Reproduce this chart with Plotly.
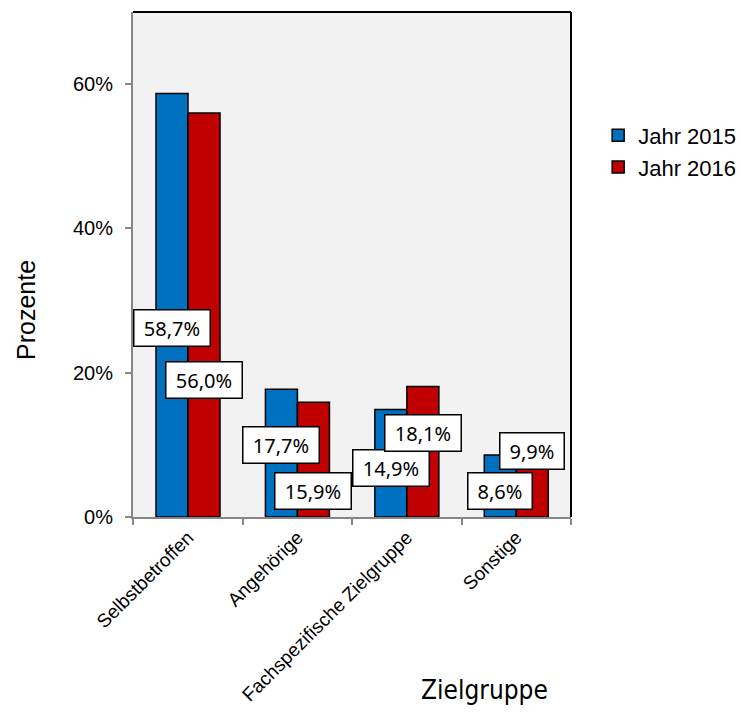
import plotly.graph_objects as go

# Zielgruppen und Anteile (in Prozent) je Jahr
categories = ["Selbstbetroffen", "Angehörige", "Fachspezifische Zielgruppe", "Sonstige"]
years = ["Jahr 2015", "Jahr 2016"]
values_2015 = [58.7, 17.7, 14.9, 8.6]
values_2016 = [56.0, 15.9, 18.1, 9.9]
y_ticks = [0, 20, 40, 60]
y_tick_labels = ["0%", "20%", "40%", "60%"]

# vertical placement of the value boxes (data units)
label_y_2015 = [26.2, 10.0, 6.8, 3.6]
label_y_2016 = [19.0, 3.6, 11.6, 9.1]

colors = ["#0070c0", "#c00000"]

fig = go.Figure()
for name, vals, col in zip(years, [values_2015, values_2016], colors):
    fig.add_trace(go.Bar(
        x=categories, y=vals, name=name,
        marker=dict(color=col, line=dict(color="black", width=1.5)),
    ))

def fmt(v):
    return f"{v:.1f}%".replace(".", ",")

annotations = []
for vals, ly, shift in [(values_2015, label_y_2015, -16), (values_2016, label_y_2016, 16)]:
    for cat, v, y in zip(categories, vals, ly):
        txt = fmt(v)
        annotations.append(dict(
            x=cat, y=y, xref="x", yref="y", text=txt, showarrow=False,
            xshift=shift, font=dict(family="Noto Sans", size=20, color="black"),
            bgcolor="white", bordercolor="black", borderwidth=1.5, borderpad=0,
            width=75 if len(txt) > 4 else 63, height=35,
        ))

# figure geometry (pixels)
L, R, T, B, W, H = 133, 170, 12, 196, 741, 713
pw, ph = W - L - R, H - T - B

def px_to_paper(x, y):
    return (x - L) / pw, 1 - (y - T) / ph

ax, ay = px_to_paper(26, 310)
annotations.append(dict(
    x=ax, y=ay, xref="paper", yref="paper", text="Prozente", showarrow=False,
    xanchor="center", yanchor="middle", textangle=-90,
    font=dict(family="Liberation Sans", size=25, color="black"),
))
ax, ay = px_to_paper(484, 690)
annotations.append(dict(
    x=ax, y=ay, xref="paper", yref="paper", text="Zielgruppe", showarrow=False,
    xanchor="center", yanchor="middle",
    font=dict(family="DejaVu Sans Condensed, Liberation Sans", size=26, color="black"),
))

fig.update_layout(
    width=W, height=H,
    margin=dict(l=L, r=R, t=T, b=B, autoexpand=False),
    paper_bgcolor="white", plot_bgcolor="#f2f2f2",
    barmode="group", bargap=0.415, bargroupgap=0,
    font=dict(family="Liberation Sans", color="black"),
    legend=dict(x=1.062, y=0.797, xanchor="left", yanchor="top",
                font=dict(family="Liberation Sans", size=22, color="black"),
                bgcolor="rgba(0,0,0,0)", tracegroupgap=0),
    annotations=annotations,
    shapes=[
        dict(type="line", xref="paper", yref="paper", x0=0, x1=1, y0=1, y1=1,
             line=dict(color="black", width=2)),
        dict(type="line", xref="paper", yref="paper", x0=1, x1=1, y0=0, y1=1,
             line=dict(color="black", width=2)),
    ],
)
fig.update_xaxes(
    showline=True, linecolor="#868686", linewidth=2,
    ticks="outside", tickson="boundaries", ticklen=6, tickcolor="#868686", tickwidth=1.5,
    tickangle=-45, tickfont=dict(family="Liberation Sans", size=19, color="black"),
    showgrid=False,
)
fig.update_yaxes(
    range=[0, 70], tickvals=y_ticks, ticktext=y_tick_labels,
    showline=True, linecolor="#868686", linewidth=2,
    ticks="outside", ticklen=6, tickcolor="#868686", tickwidth=1.5,
    tickfont=dict(family="Liberation Sans", size=20, color="black"),
    ticklabelstandoff=8,
    showgrid=False, zeroline=False,
)

fig.write_html("out.html")
